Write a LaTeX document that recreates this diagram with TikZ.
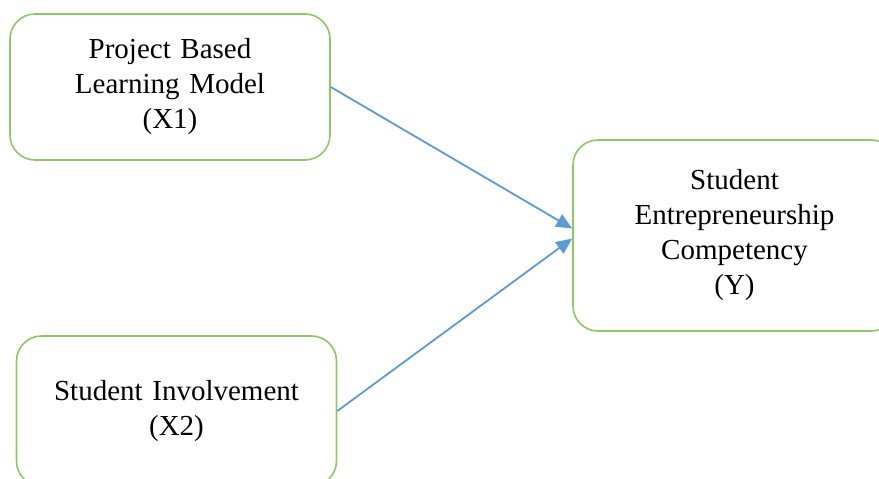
\documentclass[tikz,border=0pt]{standalone}
\usepackage{fontspec}
\setmainfont{Liberation Serif}
\usetikzlibrary{shapes.geometric, arrows.meta}
\definecolor{boxgreen}{RGB}{140,200,100}
\definecolor{arrowblue}{RGB}{91,155,213}
\tikzstyle{block} = [rectangle, draw=boxgreen, line width=1.6pt, rounded corners=25pt, text width=270pt, align=center, minimum width=320pt, minimum height=146pt, font=\fontsize{29pt}{35pt}\selectfont]
\tikzstyle{blocky} = [block, minimum width=323pt, minimum height=191pt]
\tikzstyle{line} = [draw=arrowblue, line width=1.8pt, -{Triangle[length=16pt, width=14pt]}]

\begin{document}
\begin{tikzpicture}[x=1pt, y=1pt, node distance=324pt]
\useasboundingbox (0,0) rectangle (879,-479);
\clip (0,0) rectangle (879,-479);

\node [block] (X1) at (170,-87) {Project Based\\Learning Model\\(X1)};
\node [block, below of=X1, xshift=6.5pt, minimum height=150pt] (X2) {Student Involvement\\(X2)};
\node [blocky, right of=X1, xshift=240.5pt, yshift=-148.5pt] (Y) {Student\\Entrepreneurship\\Competency\\(Y)};

\path [line] (X1.east) -- ([yshift=7pt]Y.west);
\path [line] (X2.east) -- ([yshift=-3pt]Y.west);

\end{tikzpicture}
\end{document}
